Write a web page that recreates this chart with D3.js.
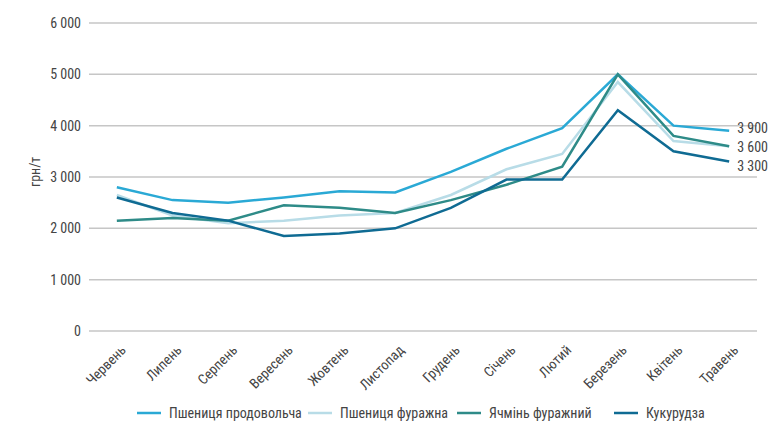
<!DOCTYPE html>
<html>
<head>
<meta charset="utf-8">
<script src="https://cdn.jsdelivr.net/npm/d3@7"></script>
<style>
  body { margin: 0; background: #fff; }
  svg text { font-family: "Liberation Sans Narrow", "Roboto Condensed", Roboto, sans-serif; fill: #444; }
</style>
</head>
<body>
<div id="chart"></div>
<script>
const months = ['Червень', 'Липень', 'Серпень', 'Вересень', 'Жовтень', 'Листопад',
  'Грудень', 'Січень', 'Лютий', 'Березень', 'Квітень', 'Травень'];
const yTicks = [0, 1000, 2000, 3000, 4000, 5000, 6000];

const wheatFood = [2800, 2550, 2500, 2600, 2720, 2700, 3100, 3550, 3950, 5000, 4000, 3900];
const wheatFeed = [2650, 2250, 2100, 2150, 2250, 2300, 2650, 3150, 3450, 4850, 3700, 3600];
const barley = [2150, 2200, 2150, 2450, 2400, 2300, 2550, 2850, 3200, 5000, 3800, 3600];
const corn = [2600, 2300, 2150, 1850, 1900, 2000, 2400, 2950, 2950, 4300, 3500, 3300];

const seriesNames = ['Пшениця продовольча', 'Пшениця фуражна', 'Ячмінь фуражний', 'Кукурудза'];
const seriesColors = ['#2aa9d5', '#b8dce7', '#2e8b88', '#0f6b93'];
const endLabels = ['3 900', '3 600', '3 300'];

const series = [wheatFood, wheatFeed, barley, corn].map((values, i) => ({
  name: seriesNames[i],
  color: seriesColors[i],
  values: values
}));

const width = 769, height = 424;
const margin = { top: 23, left: 89, right: 12, bottom: 93 };

const svg = d3.select('#chart').append('svg')
  .attr('width', width)
  .attr('height', height);

const x = d3.scalePoint()
  .domain(months)
  .range([margin.left, width - margin.right])
  .padding(0.5);

const y = d3.scaleLinear()
  .domain([0, 6000])
  .range([height - margin.bottom, margin.top]);

const fmt = d => d3.format(',')(d).replace(/,/g, ' ');

// Gridlines
svg.append('g')
  .selectAll('line')
  .data(yTicks)
  .join('line')
  .attr('x1', margin.left)
  .attr('x2', width - margin.right)
  .attr('y1', d => y(d))
  .attr('y2', d => y(d))
  .attr('stroke', '#c6c6c6')
  .attr('stroke-width', 1.5);

// Y tick labels
svg.append('g')
  .selectAll('text')
  .data(yTicks)
  .join('text')
  .attr('x', margin.left - 8)
  .attr('y', d => y(d))
  .attr('dy', '0.35em')
  .attr('text-anchor', 'end')
  .style('font-size', '14px')
  .text(fmt);

// Y axis title
svg.append('text')
  .attr('transform', `translate(40, ${y(3100)}) rotate(-90)`)
  .attr('text-anchor', 'middle')
  .style('font-size', '14px')
  .text('грн/т');

// X tick labels
svg.append('g')
  .selectAll('text')
  .data(months)
  .join('text')
  .attr('transform', d => `translate(${x(d) + 10}, ${y(0) + 20}) rotate(-45)`)
  .attr('text-anchor', 'end')
  .style('font-size', '14px')
  .text(d => d);

// Lines
const line = d3.line()
  .x((d, i) => x(months[i]))
  .y(d => y(d));

svg.append('g')
  .selectAll('path')
  .data(series)
  .join('path')
  .attr('d', d => line(d.values))
  .attr('fill', 'none')
  .attr('stroke', d => d.color)
  .attr('stroke-width', 2.5)
  .attr('stroke-linejoin', 'miter');

// End labels
const last = months[months.length - 1];
const endOffsets = [-3, 1, 4.5];
svg.append('g')
  .selectAll('text')
  .data([wheatFood, barley, corn])
  .join('text')
  .attr('x', x(last) + 8)
  .attr('y', (d, i) => y(d[d.length - 1]) + endOffsets[i])
  .attr('dy', '0.35em')
  .style('font-size', '14px')
  .text((d, i) => endLabels[i]);

// Legend
const legendX = [137, 308, 457, 614];
const legend = svg.append('g')
  .selectAll('g')
  .data(series)
  .join('g')
  .attr('transform', (d, i) => `translate(${legendX[i]}, 413)`);

legend.append('line')
  .attr('x1', 0)
  .attr('x2', 24)
  .attr('stroke', d => d.color)
  .attr('stroke-width', 2.5);

legend.append('text')
  .attr('x', 32)
  .attr('dy', '0.35em')
  .style('font-size', '14px')
  .text(d => d.name);
</script>
</body>
</html>
